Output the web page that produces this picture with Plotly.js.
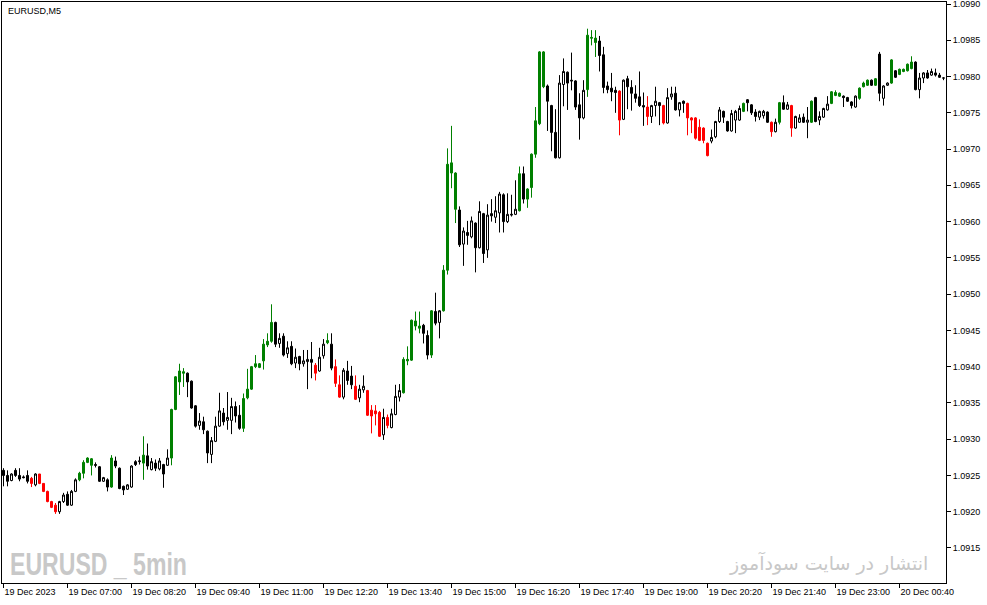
<!DOCTYPE html>
<html>
<head>
<meta charset="utf-8">
<script src="https://cdn.plot.ly/plotly-3.0.1.min.js"></script>
<style>html,body{margin:0;padding:0;background:#fff;}#chart{width:987px;height:605px;}</style>
</head>
<body>
<div id="chart"></div>
<script>
// EURUSD M5, 19 Dec 2023 05:40 -> 20 Dec 2023
const openP = [1.09257,1.09250,1.09243,1.09257,1.09250,1.09248,1.09250,1.09246,1.09237,1.09252,
1.09239,1.09228,1.09214,1.09209,1.09200,1.09214,1.09224,1.09209,1.09228,1.09244,
1.09253,1.09268,1.09273,1.09265,1.09262,1.09242,1.09244,1.09234,1.09270,1.09260,
1.09235,1.09231,1.09234,1.09269,1.09269,1.09267,1.09277,1.09258,1.09267,1.09259,
1.09265,1.09264,1.09274,1.09341,1.09379,1.09393,1.09391,1.09380,1.09346,1.09319,
1.09324,1.09311,1.09279,1.09297,1.09318,1.09336,1.09326,1.09326,1.09345,1.09333,
1.09315,1.09357,1.09369,1.09400,1.09404,1.09408,1.09430,1.09435,1.09461,1.09432,
1.09442,1.09418,1.09428,1.09405,1.09414,1.09404,1.09407,1.09410,1.09402,1.09394,
1.09415,1.09433,1.09431,1.09400,1.09375,1.09358,1.09394,1.09387,1.09373,1.09357,
1.09368,1.09367,1.09340,1.09339,1.09337,1.09306,1.09330,1.09316,1.09334,1.09358,
1.09364,1.09408,1.09409,1.09463,1.09456,1.09457,1.09443,1.09416,1.09476,1.09461,
1.09477,1.09533,1.09681,1.09667,1.09616,1.09569,1.09585,1.09579,1.09598,1.09564,
1.09611,1.09561,1.09611,1.09606,1.09612,1.09637,1.09600,1.09609,1.09610,1.09615,
1.09666,1.09631,1.09647,1.09693,1.09735,1.09834,1.09787,1.09760,1.09723,1.09688,
1.09789,1.09806,1.09795,1.09794,1.09761,1.09743,1.09782,1.09854,1.09853,1.09849,
1.09830,1.09787,1.09784,1.09781,1.09780,1.09741,1.09797,1.09785,1.09776,1.09772,
1.09760,1.09758,1.09745,1.09760,1.09764,1.09760,1.09736,1.09772,1.09777,1.09754,
1.09766,1.09763,1.09743,1.09743,1.09730,1.09729,1.09708,1.09711,1.09717,1.09738,
1.09752,1.09738,1.09725,1.09740,1.09740,1.09752,1.09768,1.09761,1.09751,1.09744,
1.09746,1.09751,1.09737,1.09724,1.09737,1.09764,1.09755,1.09760,1.09729,1.09737,
1.09744,1.09737,1.09737,1.09771,1.09740,1.09744,1.09754,1.09763,1.09778,1.09773,
1.09773,1.09771,1.09765,1.09758,1.09770,1.09786,1.09788,1.09795,1.09788,1.09831,
1.09770,1.09788,1.09791,1.09808,1.09803,1.09807,1.09808,1.09811,1.09820,1.09782,
1.09798,1.09805,1.09802,1.09805,1.09802,1.09798];

const highP = [1.09260,1.09257,1.09253,1.09260,1.09260,1.09250,1.09257,1.09248,1.09253,1.09252,
1.09239,1.09229,1.09215,1.09212,1.09215,1.09226,1.09228,1.09230,1.09246,1.09255,
1.09271,1.09275,1.09274,1.09268,1.09263,1.09248,1.09246,1.09278,1.09276,1.09261,
1.09236,1.09238,1.09264,1.09271,1.09276,1.09304,1.09294,1.09274,1.09272,1.09274,
1.09266,1.09286,1.09342,1.09387,1.09404,1.09398,1.09392,1.09381,1.09347,1.09336,
1.09331,1.09312,1.09303,1.09331,1.09364,1.09343,1.09365,1.09357,1.09352,1.09347,
1.09363,1.09397,1.09401,1.09416,1.09405,1.09438,1.09446,1.09486,1.09462,1.09446,
1.09446,1.09435,1.09435,1.09425,1.09415,1.09423,1.09423,1.09434,1.09405,1.09426,
1.09438,1.09446,1.09446,1.09410,1.09388,1.09398,1.09408,1.09401,1.09388,1.09375,
1.09388,1.09368,1.09347,1.09347,1.09339,1.09342,1.09334,1.09342,1.09375,1.09376,
1.09413,1.09428,1.09465,1.09476,1.09476,1.09459,1.09450,1.09478,1.09502,1.09478,
1.09540,1.09701,1.09732,1.09668,1.09621,1.09592,1.09601,1.09607,1.09599,1.09628,
1.09612,1.09624,1.09631,1.09635,1.09641,1.09639,1.09639,1.09637,1.09657,1.09676,
1.09676,1.09646,1.09694,1.09758,1.09835,1.09835,1.09789,1.09761,1.09755,1.09802,
1.09825,1.09807,1.09833,1.09795,1.09777,1.09795,1.09866,1.09864,1.09864,1.09856,
1.09841,1.09793,1.09805,1.09786,1.09781,1.09796,1.09801,1.09795,1.09788,1.09807,
1.09778,1.09773,1.09761,1.09786,1.09765,1.09761,1.09784,1.09786,1.09786,1.09765,
1.09767,1.09764,1.09744,1.09744,1.09741,1.09730,1.09709,1.09727,1.09739,1.09758,
1.09753,1.09739,1.09754,1.09754,1.09760,1.09764,1.09769,1.09762,1.09755,1.09753,
1.09754,1.09752,1.09738,1.09742,1.09765,1.09774,1.09765,1.09761,1.09746,1.09748,
1.09749,1.09758,1.09767,1.09772,1.09752,1.09757,1.09773,1.09780,1.09781,1.09778,
1.09774,1.09772,1.09766,1.09774,1.09785,1.09793,1.09796,1.09796,1.09798,1.09834,
1.09788,1.09792,1.09824,1.09809,1.09811,1.09811,1.09818,1.09828,1.09821,1.09805,
1.09806,1.09809,1.09811,1.09811,1.09805,1.09799];

const lowP = [1.09235,1.09235,1.09242,1.09248,1.09242,1.09246,1.09239,1.09234,1.09235,1.09238,
1.09227,1.09213,1.09205,1.09197,1.09197,1.09212,1.09208,1.09208,1.09227,1.09242,
1.09246,1.09267,1.09250,1.09261,1.09241,1.09241,1.09228,1.09233,1.09260,1.09231,
1.09223,1.09230,1.09233,1.09263,1.09265,1.09244,1.09258,1.09257,1.09256,1.09257,
1.09233,1.09263,1.09264,1.09340,1.09361,1.09372,1.09358,1.09342,1.09316,1.09313,
1.09307,1.09267,1.09267,1.09296,1.09317,1.09319,1.09313,1.09307,1.09323,1.09313,
1.09310,1.09355,1.09368,1.09398,1.09398,1.09396,1.09427,1.09433,1.09427,1.09426,
1.09414,1.09412,1.09402,1.09398,1.09395,1.09400,1.09369,1.09384,1.09381,1.09393,
1.09411,1.09431,1.09395,1.09372,1.09357,1.09355,1.09375,1.09369,1.09354,1.09351,
1.09364,1.09332,1.09308,1.09319,1.09303,1.09299,1.09315,1.09315,1.09333,1.09352,
1.09363,1.09402,1.09408,1.09450,1.09446,1.09432,1.09410,1.09412,1.09457,1.09439,
1.09476,1.09527,1.09646,1.09598,1.09565,1.09539,1.09568,1.09577,1.09530,1.09563,
1.09543,1.09550,1.09600,1.09598,1.09585,1.09585,1.09598,1.09607,1.09609,1.09614,
1.09625,1.09619,1.09633,1.09688,1.09733,1.09784,1.09725,1.09697,1.09687,1.09687,
1.09759,1.09754,1.09781,1.09754,1.09713,1.09741,1.09772,1.09843,1.09827,1.09807,
1.09777,1.09777,1.09766,1.09750,1.09719,1.09740,1.09755,1.09753,1.09764,1.09758,
1.09732,1.09733,1.09736,1.09745,1.09733,1.09734,1.09735,1.09768,1.09753,1.09745,
1.09750,1.09719,1.09722,1.09713,1.09711,1.09708,1.09690,1.09708,1.09715,1.09736,
1.09736,1.09724,1.09724,1.09722,1.09739,1.09751,1.09752,1.09747,1.09738,1.09740,
1.09742,1.09736,1.09717,1.09723,1.09734,1.09754,1.09754,1.09717,1.09728,1.09736,
1.09736,1.09715,1.09736,1.09737,1.09733,1.09743,1.09753,1.09762,1.09773,1.09772,
1.09758,1.09765,1.09756,1.09757,1.09768,1.09785,1.09787,1.09787,1.09787,1.09766,
1.09760,1.09787,1.09790,1.09798,1.09802,1.09806,1.09807,1.09810,1.09781,1.09770,
1.09791,1.09797,1.09801,1.09800,1.09798,1.09795];

const closeP = [1.09250,1.09242,1.09252,1.09250,1.09245,1.09247,1.09242,1.09239,1.09252,1.09239,
1.09228,1.09214,1.09206,1.09200,1.09214,1.09223,1.09209,1.09228,1.09244,1.09253,
1.09268,1.09274,1.09264,1.09264,1.09242,1.09247,1.09234,1.09274,1.09263,1.09232,
1.09230,1.09237,1.09263,1.09265,1.09270,1.09278,1.09263,1.09269,1.09260,1.09270,
1.09252,1.09274,1.09341,1.09386,1.09394,1.09391,1.09379,1.09343,1.09318,1.09325,
1.09313,1.09281,1.09298,1.09318,1.09339,1.09324,1.09330,1.09345,1.09332,1.09315,
1.09356,1.09369,1.09400,1.09404,1.09399,1.09431,1.09435,1.09461,1.09431,1.09439,
1.09416,1.09426,1.09404,1.09413,1.09404,1.09408,1.09410,1.09406,1.09391,1.09413,
1.09431,1.09436,1.09398,1.09377,1.09358,1.09395,1.09381,1.09375,1.09355,1.09369,
1.09373,1.09333,1.09332,1.09335,1.09304,1.09330,1.09319,1.09335,1.09359,1.09367,
1.09410,1.09410,1.09464,1.09456,1.09453,1.09446,1.09416,1.09477,1.09460,1.09477,
1.09533,1.09679,1.09667,1.09617,1.09568,1.09587,1.09581,1.09601,1.09564,1.09614,
1.09556,1.09609,1.09608,1.09615,1.09638,1.09600,1.09610,1.09610,1.09617,1.09666,
1.09631,1.09645,1.09693,1.09739,1.09834,1.09786,1.09766,1.09723,1.09688,1.09791,
1.09807,1.09791,1.09794,1.09758,1.09743,1.09781,1.09857,1.09853,1.09847,1.09829,
1.09785,1.09782,1.09779,1.09778,1.09740,1.09795,1.09786,1.09777,1.09770,1.09760,
1.09758,1.09745,1.09760,1.09766,1.09760,1.09736,1.09771,1.09776,1.09754,1.09764,
1.09763,1.09743,1.09740,1.09715,1.09712,1.09712,1.09691,1.09716,1.09738,1.09754,
1.09744,1.09725,1.09749,1.09752,1.09756,1.09763,1.09764,1.09750,1.09745,1.09752,
1.09752,1.09737,1.09724,1.09737,1.09764,1.09755,1.09761,1.09729,1.09745,1.09743,
1.09737,1.09740,1.09766,1.09738,1.09745,1.09756,1.09762,1.09779,1.09774,1.09777,
1.09771,1.09766,1.09760,1.09773,1.09784,1.09791,1.09795,1.09788,1.09797,1.09777,
1.09787,1.09791,1.09823,1.09799,1.09810,1.09810,1.09817,1.09820,1.09782,1.09798,
1.09805,1.09798,1.09807,1.09802,1.09799,1.09798];

// bars painted by the trend indicator
const greenBars = [19,20,21,22,27,35,42,43,44,45,60,61,62,63,64,65,66,67,81,100,101,102,103,104,107,110,111,112,113,129,131,132,133,134,135,146,147,148,185,194,202,207,208,209,214,215,216,218,222,224,225,226,227];
const redBars = [7,9,10,11,12,13,78,83,84,88,91,92,93,94,96,154,161,165,171,172,173,174,175,176,192,197];

const timeTickBars = [0,16,32,48,64,80,96,112,128,144,160,176,192,208,224];
const timeTickLabels = ["19 Dec 2023","19 Dec 07:00","19 Dec 08:20","19 Dec 09:40","19 Dec 11:00","19 Dec 12:20","19 Dec 13:40","19 Dec 15:00","19 Dec 16:20","19 Dec 17:40","19 Dec 19:00","19 Dec 20:20","19 Dec 21:40","19 Dec 23:00","20 Dec 00:40"];
const priceTicks = [1.0915,1.0920,1.0925,1.0930,1.0935,1.0940,1.0945,1.0950,1.0955,1.0960,1.0965,1.0970,1.0975,1.0980,1.0985,1.0990];

const allIdx = openP.map((_, i) => i);
const special = new Set(greenBars.concat(redBars));
const normalBars = allIdx.filter(i => !special.has(i));

function candle(idx, inc, dec) {
  return {
    type: 'candlestick',
    x: idx,
    open: idx.map(i => openP[i]),
    high: idx.map(i => highP[i]),
    low: idx.map(i => lowP[i]),
    close: idx.map(i => closeP[i]),
    increasing: inc,
    decreasing: dec,
    whiskerwidth: 0,
    hoverinfo: 'skip',
    showlegend: false
  };
}

const traces = [
  candle(normalBars, {line: {color: '#000000', width: 1}, fillcolor: '#ffffff'},
                     {line: {color: '#000000', width: 1}, fillcolor: '#000000'}),
  candle(greenBars, {line: {color: '#008000', width: 1}, fillcolor: '#008000'},
                    {line: {color: '#008000', width: 1}, fillcolor: '#008000'}),
  candle(redBars, {line: {color: '#ff0000', width: 1}, fillcolor: '#ff0000'},
                  {line: {color: '#ff0000', width: 1}, fillcolor: '#ff0000'})
];

const tickFont = {family: 'Liberation Sans, Arial, sans-serif', size: 9, color: '#000000'};

const layout = {
  width: 987, height: 605,
  margin: {l: 2, r: 41, t: 2, b: 22, pad: 0},
  paper_bgcolor: '#ffffff', plot_bgcolor: '#ffffff',
  showlegend: false,
  hovermode: false,
  boxgap: 0.5,
  boxgroupgap: 0,
  xaxis: {
    type: 'linear',
    range: [-0.375, 235.625],
    rangeslider: {visible: false},
    showgrid: false, zeroline: false,
    showline: true, linecolor: '#000000', linewidth: 1, mirror: true,
    ticks: 'outside', ticklen: 4, tickcolor: '#000000', tickwidth: 1,
    tickmode: 'array', tickvals: timeTickBars, ticktext: timeTickLabels,
    ticklabelposition: 'outside right',
    ticklabeloverflow: 'allow',
    tickfont: tickFont,
    fixedrange: true
  },
  yaxis: {
    side: 'right',
    range: [1.091017, 1.099028],
    showgrid: false, zeroline: false,
    showline: true, linecolor: '#000000', linewidth: 1, mirror: true,
    ticks: 'outside', ticklen: 4, tickcolor: '#000000', tickwidth: 1,
    tickmode: 'array', tickvals: priceTicks,
    ticktext: priceTicks.map(v => v.toFixed(4)),
    ticklabeloverflow: 'allow',
    tickfont: tickFont,
    fixedrange: true
  },
  annotations: [
    {text: 'EURUSD,M5', xref: 'paper', yref: 'paper', x: 0.0042, y: 0.9845,
     xanchor: 'left', yanchor: 'middle', showarrow: false,
     font: {family: 'Liberation Sans, Arial, sans-serif', size: 9, color: '#000000'}},
    {text: '<b>EURUSD _ 5min</b>', xref: 'paper', yref: 'paper', x: 0.0064, y: 0.0327,
     xanchor: 'left', yanchor: 'middle', showarrow: false,
     font: {family: 'Liberation Sans, Arial, sans-serif', size: 31, color: '#c8c8c8'}},
    {text: 'انتشار در سایت سودآموز', xref: 'paper', yref: 'paper', x: 0.983, y: 0.035,
     xanchor: 'right', yanchor: 'middle', showarrow: false,
     font: {family: 'DejaVu Sans, Noto Sans, sans-serif', size: 19, color: '#c8c8c8'}}
  ]
};

Plotly.newPlot('chart', traces, layout, {displayModeBar: false, staticPlot: true}).then(function () {
  // condense the watermark label horizontally, like a narrow bold face
  document.querySelectorAll('text.annotation-text').forEach(function (t) {
    if (t.textContent.indexOf('5min') >= 0) {
      var bb = t.getBBox();
      var s = 177 / bb.width;
      t.setAttribute('transform', 'translate(' + (bb.x * (1 - s)) + ',0) scale(' + s + ',1)');
    }
  });
});
</script>
</body>
</html>
